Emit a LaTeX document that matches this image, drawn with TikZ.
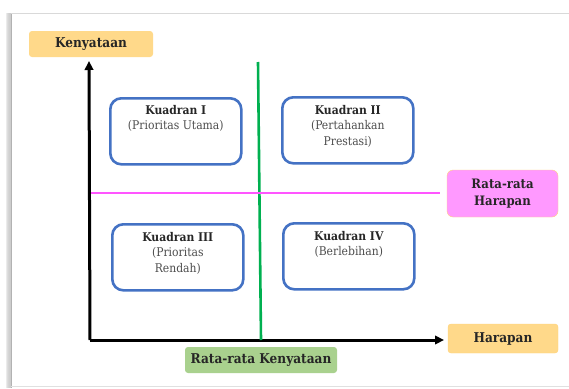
\documentclass[tikz,border=0pt]{standalone}
\usepackage{fontspec}
\setmainfont{DejaVu Serif Condensed}
\usetikzlibrary{arrows.meta}
\definecolor{quadblue}{HTML}{4472C4}
\definecolor{axisgreen}{HTML}{00B050}
\definecolor{avgpink}{HTML}{FF55FF}
\definecolor{pinkfill}{HTML}{FF99FF}
\definecolor{orangefill}{HTML}{FFD98A}
\definecolor{orangeedge}{HTML}{FFD27A}
\definecolor{greenfill}{HTML}{A9D18E}
\definecolor{titletext}{HTML}{262626}
\definecolor{subtext}{HTML}{4D4D4D}
\tikzset{
  quad/.style={draw=quadblue, line width=2.6pt, rounded corners=11pt, fill=white,
    minimum width=131pt, minimum height=66pt, anchor=north west, inner sep=0pt},
  qtext/.style={align=center, font=\fontsize{12}{15.5}\selectfont, inner sep=0pt, anchor=north},
  tag/.style={rounded corners=3pt, inner sep=0pt, font=\fontsize{13.5}{17}\selectfont\bfseries,
    text=titletext, align=center},
  axisline/.style={line width=3pt, -{Triangle[length=9pt,width=8.5pt]}},
}
\begin{document}
\begin{tikzpicture}[x=1pt,y=-1pt]
\useasboundingbox (0,0) rectangle (569,388);
% sheet frame with soft shadow
\foreach \i/\o in {1/0.05,2/0.08,3/0.12,4/0.16,5/0.2}
  \fill[black!40, opacity=\o] (11-\i,13) rectangle (11,388);
\draw[black!30, line width=1pt] (11,388) -- (11,13);
\draw[black!15, line width=1pt] (11,13) -- (569,13);
\draw[black!12, line width=1pt] (11,386) -- (569,386);

% axis labels
\node[tag, fill=orangefill, minimum width=124pt, minimum height=26pt] (ky) at (91,44) {Kenyataan};
\node[tag, fill=orangefill, draw=orangeedge, minimum width=110pt, minimum height=29pt] (hr) at (503,338.5) {Harapan};
\node[tag, fill=greenfill, minimum width=152pt, minimum height=26pt] (rk) at (261,360) {Rata-rata Kenyataan};
\node[tag, fill=pinkfill, draw=orangeedge, rounded corners=6pt, minimum width=111pt, minimum height=47pt,
  font=\fontsize{13}{17}\selectfont\bfseries] (rh) at (502.5,193.5) {Rata-rata\\Harapan};

% axes
\coordinate (o) at (90,340);
\coordinate (ytop) at (89,61);
\coordinate (xend) at (444,340);
\draw[axisline] (o) -- (ytop);
\draw[axisline] (o) -- (xend);

% average lines
\coordinate (gtop) at (258,62);
\coordinate (gbot) at (261,340);
\draw[axisgreen, line width=2.6pt] (gtop) -- (gbot);
\coordinate (pl) at (91,193);
\coordinate (pr) at (440,193);
\draw[avgpink, line width=2.6pt] (pl) -- (pr);

% quadrants
\node[quad] (q1) at (109,97) {};
\node[quad] (q2) at (281,96) {};
\node[quad] (q3) at (111,223) {};
\node[quad] (q4) at (282,222) {};
\node[qtext] (t1) at ([yshift=-8pt]q1.north) {\textbf{\color{titletext}Kuadran I}\\\color{subtext}(Prioritas Utama)};
\node[qtext] (t2) at ([yshift=-9pt]q2.north) {\textbf{\color{titletext}Kuadran II}\\\color{subtext}(Pertahankan\\\color{subtext}Prestasi)};
\node[qtext] (t3) at ([yshift=-9pt]q3.north) {\textbf{\color{titletext}Kuadran III}\\\color{subtext}(Prioritas\\\color{subtext}Rendah)};
\node[qtext] (t4) at ([yshift=-9pt]q4.north) {\textbf{\color{titletext}Kuadran IV}\\\color{subtext}(Berlebihan)};
\end{tikzpicture}
\end{document}
